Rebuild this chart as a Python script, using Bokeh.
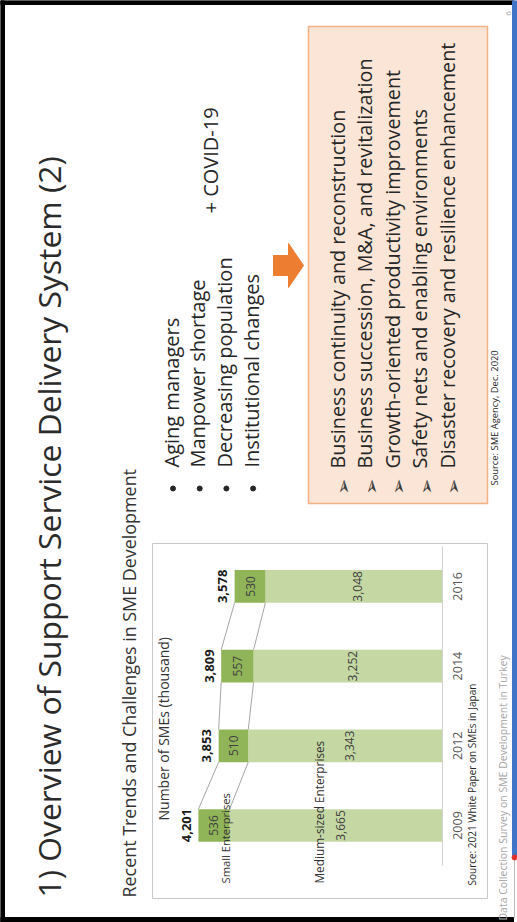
import math
from bokeh.plotting import figure
from bokeh.models import Range1d
from bokeh.core.properties import value
from bokeh.embed import file_html
from bokeh.resources import INLINE

# ---------------- data ----------------
years = ["2009", "2012", "2014", "2016"]
small = [536, 510, 557, 530]
medium = [3665, 3343, 3252, 3048]
totals = [4201, 3853, 3809, 3578]
total_labels = ["4,201", "3,853", "3,809", "3,578"]
small_labels = ["536", "510", "557", "530"]
medium_labels = ["3,665", "3,343", "3,252", "3,048"]

title_text = "1) Overview of Support Service Delivery System (2)"
subtitle_text = "Recent Trends and Challenges in SME Development"
chart_title = "Number of SMEs (thousand)"
series_small = "Small Enterprises"
series_medium = "Medium-sized Enterprises"
chart_source = "Source: 2021 White Paper on SMEs in Japan"
challenges = ["Aging managers", "Manpower shortage", "Decreasing population", "Institutional changes"]
covid = "+ COVID-19"
measures = [
    "Business continuity and reconstruction",
    "Business succession, M&A, and revitalization",
    "Growth-oriented productivity improvement",
    "Safety nets and enabling environments",
    "Disaster recovery and resilience enhancement",
]
measures_source = "Source: SME Agency, Dec. 2020"
footer = "Data Collection Survey on SME Development in Turkey"
page_no = "6"

# ---------------- figure ----------------
W, H = 517, 922
p = figure(width=W, height=H, x_range=Range1d(0, W), y_range=Range1d(0, H),
           min_border=0, toolbar_location=None, output_backend="svg",
           x_axis_location=None, y_axis_location=None)
p.grid.visible = False
p.outline_line_color = None
p.background_fill_color = "white"
p.border_fill_color = "white"

ROT = math.pi / 2
DARK = "#262626"
SHIFT = 0.62  # rotated-text baseline correction (em)


def Y(sy):
    """screen y (from top) -> data y"""
    if isinstance(sy, (list, tuple)):
        return [H - v for v in sy]
    return H - sy


def vtext(x, sy, s, size, color=DARK, font="Open Sans", style="normal",
          align="left", baseline="alphabetic", **kw):
    if baseline == "alphabetic":
        x = x - SHIFT * size
    p.text(x=[x], y=[Y(sy)], text=[s], angle=ROT, text_font=value(font),
           text_font_size=f"{size}px", text_color=color, text_align=align,
           text_baseline=baseline, text_font_style=style, **kw)


def box(l, r, t, b, **kw):
    p.quad(left=l, right=r, top=Y(t), bottom=Y(b), **kw)


# slide frame
box(0, 4, 0, H, color="black")
box(0, 513, 0, 4, color="black")
box(0, 513, 917, H, color="black")
box(512, 516, 0, 855, color="#3F74C6")
p.segment(x0=514, y0=Y(855), x1=514, y1=Y(917), line_color="#BBBBBB", line_width=1)
p.scatter(x=[514], y=[Y(857)], size=5, color="#E0302A")

# title / subtitle
vtext(68, 897, title_text, 31.8, color="#2B2B2B")
vtext(140, 897, subtitle_text, 17.9, color="#333333")

# ---------------- chart ----------------
box(152, 487, 543, 898, fill_color=None, line_color="#C8C8C8", line_width=1)

BASE_X = 442.0
PX_PER_UNIT = 58.1 / 1000.0
CAT0_Y = 825.0
CAT_STEP = 79.7
p.extra_x_ranges = {"val": Range1d(start=BASE_X / PX_PER_UNIT,
                                   end=(BASE_X - W) / PX_PER_UNIT)}
p.extra_y_ranges = {"cat": Range1d(start=(CAT0_Y - H) / CAT_STEP,
                                   end=CAT0_Y / CAT_STEP)}
R = dict(x_range_name="val", y_range_name="cat")
idx = list(range(len(years)))
BW = 0.41
LIGHT = "#C5D8A4"
DARKG = "#90B558"

p.hbar(y=idx, left=0, right=medium, height=BW, fill_color=LIGHT, line_color=None, **R)
p.hbar(y=idx, left=medium, right=totals, height=BW, fill_color=DARKG, line_color=None, **R)

# series lines
for i in range(len(years) - 1):
    p.segment(x0=[totals[i], medium[i]], y0=[i + BW / 2] * 2,
              x1=[totals[i + 1], medium[i + 1]], y1=[i + 1 - BW / 2] * 2,
              line_color="#A6A6A6", line_width=1, **R)

# category axis line
p.segment(x0=[0], y0=[-0.5], x1=[0], y1=[len(years) - 0.5],
          line_color="#D0D0D0", line_width=1, **R)

# labels
p.text(x=totals, y=idx, text=total_labels, angle=ROT, text_font=value("Open Sans"),
       text_font_size="13px", text_font_style="bold", text_color="#1A1A1A",
       text_align="center", text_baseline="alphabetic",
       x_offset=-4 - SHIFT * 13, **R)
p.text(x=[(m + t) / 2 for m, t in zip(medium, totals)], y=idx, text=small_labels,
       angle=ROT, text_font=value("Open Sans"), text_font_size="12px",
       text_color="#404040", text_align="center", text_baseline="middle", **R)
p.text(x=[m / 2 for m in medium], y=idx, text=medium_labels,
       angle=ROT, text_font=value("Open Sans"), text_font_size="12px",
       text_color="#404040", text_align="center", text_baseline="middle",
       x_offset=4, **R)
p.text(x=[0] * len(years), y=idx, text=years, angle=ROT, text_font=value("Open Sans"),
       text_font_size="12.5px", text_color="#595959", text_align="center",
       text_baseline="alphabetic", x_offset=23 - SHIFT * 12.5, **R)

vtext(172, 820, chart_title, 14, color="#333333")
vtext(232, 883, series_small, 11.2, color="#333333")
vtext(326, 883, series_medium, 11.8, color="#333333")
vtext(478, 885, chart_source, 10, color="#262626")

# ---------------- challenges ----------------
BUL_X0, BUL_STEP = 183.0, 26.7
for k, s in enumerate(challenges):
    bx = BUL_X0 + k * BUL_STEP
    vtext(bx, 467, s, 20, color="#262626")
    p.scatter(x=[bx - 10.5], y=[Y(488)], size=5, color="#262626")
vtext(222, 213, covid, 20, color="#262626")

# arrow
p.patch(x=[273, 288, 288, 303, 288, 288, 273],
        y=Y([255, 255, 243, 265, 287, 275, 275]), color="#ED7D31")

# measures box
box(308, 487, 26, 503, fill_color="#FBE5D6", line_color="#F4B183", line_width=1.5)
M_X0, M_STEP = 349.0, 27.5
for k, s in enumerate(measures):
    mx = M_X0 + k * M_STEP
    vtext(mx, 468, s, 19.8, color="#262626")
    vtext(mx - 6.5, 486, "\u27a2", 19, color="#3A3A3A", font="DejaVu Sans",
          align="center", baseline="middle")
vtext(500, 485, measures_source, 9.4, color="#262626")

# footer
vtext(509, 920, footer, 10.5, color="#A6A6A6")
vtext(508, 13, page_no, 8, color="#A6A6A6", align="center", baseline="middle")

open("out.html", "w").write(file_html(p, INLINE))
